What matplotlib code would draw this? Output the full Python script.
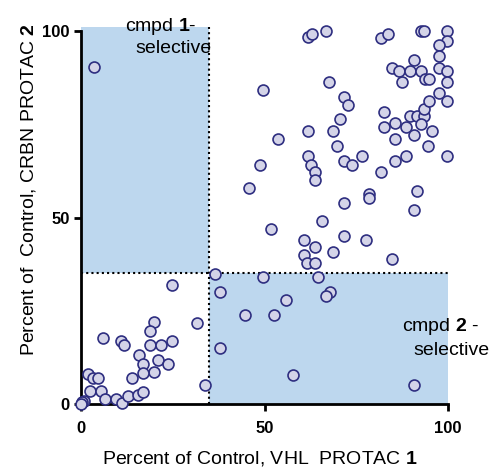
import numpy as np
import matplotlib
matplotlib.use("Agg")
from matplotlib import pyplot as plt
from matplotlib.patches import Rectangle

plt.rcParams['font.family'] = ['Liberation Sans', 'DejaVu Sans']
plt.rcParams['mathtext.fontset'] = 'custom'
plt.rcParams['mathtext.rm'] = 'Liberation Sans'
plt.rcParams['mathtext.bf'] = 'Liberation Sans:bold'

# percent of control, VHL PROTAC 1 (x) vs CRBN PROTAC 2 (y)
vhl = [61.8, 62.9, 66.8, 81.7, 83.7, 92.6, 93.5, 99.6, 99.6, 97.6, 97.6, 97.6, 99.6, 99.6,
       90.6, 84.7, 86.7, 89.6, 92.6, 87.6, 93.7, 94.8, 49.7, 67.7, 71.7, 72.7, 70.6, 68.7,
       61.8, 53.8, 69.7, 61.8, 62.7, 63.8, 63.8, 71.7, 73.8, 76.7, 81.7, 85.6, 88.6, 99.6,
       82.6, 82.6, 85.6, 85.6, 88.6, 89.6, 91.6, 93.5, 93.5, 94.8, 92.6, 90.6, 95.6, 94.6,
       97.6, 99.6, 71.7, 78.6, 78.6, 91.6, 90.6, 65.7, 48.8, 45.8, 3.5,
       51.7, 71.7, 77.7, 60.8, 63.8, 68.7, 60.8, 61.7, 63.8, 84.7, 49.7, 64.7,
       67.8, 66.7, 55.8, 44.7, 52.7, 57.7, 90.6, 37.8, 37.8, 36.5,
       24.9, 31.7, 20.0, 18.9, 6.1, 10.8, 11.8, 18.9, 21.8, 24.8, 15.8, 17.0, 20.9, 23.8,
       19.9, 17.0, 14.0, 1.8, 3.4, 4.7, 2.5, 5.4, 6.5, 9.5, 11.1, 12.9, 15.6, 17.0,
       0.9, 0.3, 0.0, 33.8]
crbn = [98.3, 99.2, 100.0, 98.2, 99.2, 100.0, 100.0, 100.0, 97.2, 96.2, 93.3, 90.2, 89.3, 86.2,
        92.2, 90.2, 89.3, 89.3, 89.3, 86.2, 87.1, 87.1, 84.2, 86.2, 82.2, 80.1, 76.3, 73.2,
        73.2, 71.0, 69.2, 66.4, 64.1, 62.1, 60.1, 65.1, 64.1, 66.4, 62.1, 65.1, 66.4, 66.4,
        78.2, 74.2, 75.3, 71.0, 74.2, 77.2, 77.2, 77.2, 79.2, 81.2, 75.1, 72.1, 73.2, 69.2,
        83.4, 81.2, 54.0, 56.2, 55.1, 57.0, 51.9, 49.0, 64.1, 58.0, 90.3,
        46.9, 45.0, 44.0, 44.0, 42.0, 40.8, 39.9, 37.9, 37.9, 38.9, 34.0, 34.0,
        29.9, 29.0, 27.9, 23.9, 23.9, 7.8, 5.1, 29.9, 14.9, 34.9,
        31.8, 21.8, 21.9, 19.7, 17.8, 16.9, 15.8, 15.8, 15.8, 16.9, 13.1, 10.7, 11.8, 10.7,
        8.7, 8.2, 7.1, 8.0, 6.9, 6.9, 3.5, 3.6, 1.3, 1.3, 0.4, 2.2, 2.4, 3.1,
        0.9, 0.5, 0.0, 5.1]

cutoff = 35
ticks = [0, 50, 100]

fig = plt.figure(figsize=(4.9, 4.68), dpi=100)
ax = fig.add_axes([81 / 490, 1 - 404 / 468, 367 / 490, 373 / 468])
ax.set_xlim(0, 100)
ax.set_ylim(0, 100)

shade = '#bdd7ee'
ax.add_patch(Rectangle((0, cutoff), cutoff, 101 - cutoff, facecolor=shade, edgecolor='none',
                       zorder=0, clip_on=False))
ax.add_patch(Rectangle((cutoff, 0), 100 - cutoff, cutoff, facecolor=shade, edgecolor='none',
                       zorder=0, clip_on=False))
ax.plot([0, 100], [cutoff, cutoff], color='black', lw=1.5, ls=(0, (1, 1.5)), zorder=1, clip_on=False)
ax.plot([cutoff, cutoff], [0, 101], color='black', lw=1.5, ls=(0, (1, 1.5)), zorder=1, clip_on=False)

ax.scatter(vhl, crbn, s=62, facecolor='#d4d4e8', edgecolor='#2e2e80', linewidth=1.2,
           zorder=3, clip_on=False)

for side in ['top', 'right']:
    ax.spines[side].set_visible(False)
for side in ['left', 'bottom']:
    ax.spines[side].set_linewidth(2)
ax.set_xticks(ticks)
ax.set_yticks(ticks)
ax.tick_params(axis='both', length=5, width=2, labelsize=12)
ax.tick_params(axis='x', pad=7)
ax.tick_params(axis='y', pad=3)
for lab in ax.get_xticklabels() + ax.get_yticklabels():
    lab.set_fontweight('bold')

fig.text(260 / 490, 1 - 464 / 468, 'Percent of Control, VHL  PROTAC $\\mathbf{1}$',
         ha='center', va='baseline', fontsize=14)
fig.text(29 / 490, 1 - 190 / 468, 'Percent of  Control, CRBN PROTAC $\\mathbf{2}$',
         ha='center', va='center', rotation=90, fontsize=14)

ax.text(12.0, 100, 'cmpd $\\mathbf{1}$-', ha='left', va='baseline', fontsize=14)
ax.text(14.7, 94.1, 'selective', ha='left', va='baseline', fontsize=14)
ax.text(87.5, 19.6, 'cmpd $\\mathbf{2}$ -', ha='left', va='baseline', fontsize=14)
ax.text(90.5, 13.1, 'selective', ha='left', va='baseline', fontsize=14)

fig.savefig('out.png', dpi=100)
